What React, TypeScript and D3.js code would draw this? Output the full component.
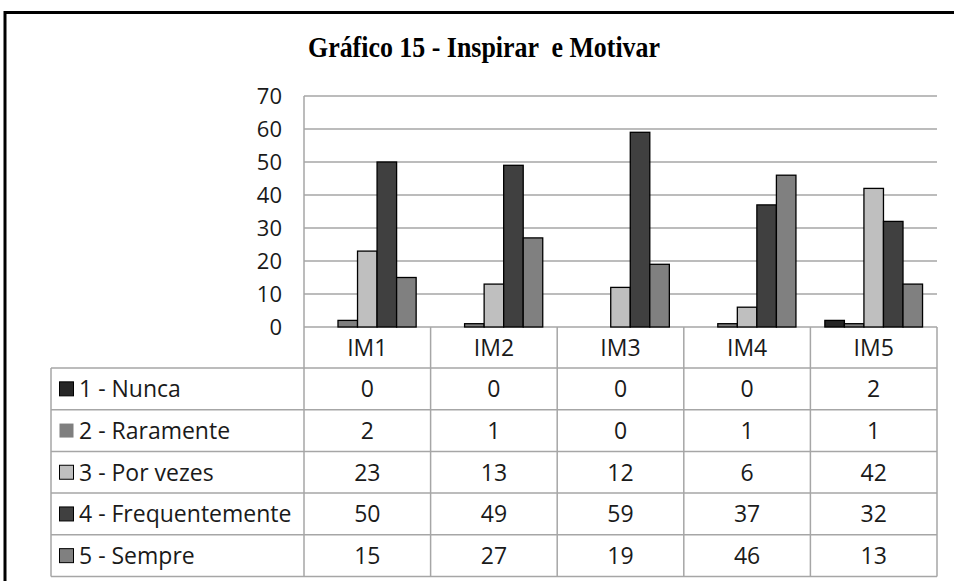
import React from "react";
import * as d3 from "d3";

const title = "Gráfico 15 - Inspirar  e Motivar";
const categories = ["IM1", "IM2", "IM3", "IM4", "IM5"];
const seriesNames = ["1 - Nunca", "2 - Raramente", "3 - Por vezes", "4 - Frequentemente", "5 - Sempre"];
const nunca = [0, 0, 0, 0, 2];
const raramente = [2, 1, 0, 1, 1];
const porVezes = [23, 13, 12, 6, 42];
const frequentemente = [50, 49, 59, 37, 32];
const sempre = [15, 27, 19, 46, 13];
const yTicks = [0, 10, 20, 30, 40, 50, 60, 70];
const seriesColors = ["#262626", "#7f7f7f", "#bfbfbf", "#404040", "#808080"];

const seriesValues = [nunca, raramente, porVezes, frequentemente, sempre];

export default function App() {
  const W = 954, H = 581;
  const plotLeft = 304, plotRight = 937, plotTop = 96, plotBottom = 327;
  const tableLeft = 51;
  const rowH = 41.7;
  const headerBottom = 368;

  const y = d3.scaleLinear().domain([0, 70]).range([plotBottom, plotTop]);
  const x = d3.scaleBand().domain(categories).range([plotLeft, plotRight]).paddingInner(0).paddingOuter(0);
  const inner = d3.scaleBand().domain(seriesNames).range([0, x.bandwidth()]).paddingOuter(0.74).paddingInner(0);

  const font = "'Open Sans', sans-serif";
  const grid = "#a6a6a6";

  return (
    <svg width={W} height={H} style={{ position: "absolute", left: 0, top: 0 }}>
      <rect x={0} y={0} width={W} height={H} fill="#fff" />
      <path d={`M5,${H} V12.5 H${W}`} fill="none" stroke="#000" strokeWidth={3} />
      <text x={484} y={57} textAnchor="middle" fontFamily="'Liberation Serif', serif" fontWeight="bold" fontSize={29} textLength={352} lengthAdjust="spacingAndGlyphs" style={{ whiteSpace: "pre" }} xmlSpace="preserve">{title}</text>

      {yTicks.map((t) => (
        <g key={t}>
          <line x1={plotLeft} x2={plotRight} y1={y(t)} y2={y(t)} stroke={grid} strokeWidth={1.5} />
          <text x={282} y={y(t)} dy="0.36em" textAnchor="end" fontFamily={font} fontSize={22} fill="#1a1a1a">{t}</text>
        </g>
      ))}
      <line x1={plotLeft} x2={plotLeft} y1={plotTop} y2={plotBottom} stroke={grid} strokeWidth={1.5} />

      {categories.map((c, ci) => (
        <g key={c}>
          {seriesValues.map((vals, si) => {
            const v = vals[ci];
            if (v === 0) return null;
            const bx = (x(c) as number) + (inner(seriesNames[si]) as number);
            return (
              <rect key={si} x={bx} y={y(v)} width={inner.bandwidth()} height={plotBottom - y(v)} fill={seriesColors[si]} stroke="#000" strokeWidth={1.3} />
            );
          })}
        </g>
      ))}

      <g fontFamily={font} fontSize={23} fill="#1a1a1a">
        {categories.map((c) => (
          <text key={c} x={(x(c) as number) + x.bandwidth() / 2} y={(plotBottom + headerBottom) / 2} dy="0.36em" textAnchor="middle">{c}</text>
        ))}
        {d3.range(6).map((i) => (
          <line key={i} x1={tableLeft} x2={plotRight} y1={headerBottom + i * rowH} y2={headerBottom + i * rowH} stroke={grid} strokeWidth={1.5} />
        ))}
        <line x1={tableLeft} x2={tableLeft} y1={headerBottom} y2={headerBottom + 5 * rowH} stroke={grid} strokeWidth={1.5} />
        {categories.map((c) => (
          <line key={c} x1={x(c) as number} x2={x(c) as number} y1={plotBottom} y2={headerBottom + 5 * rowH} stroke={grid} strokeWidth={1.5} />
        ))}
        <line x1={plotRight} x2={plotRight} y1={plotBottom} y2={headerBottom + 5 * rowH} stroke={grid} strokeWidth={1.5} />
        {seriesNames.map((s, si) => {
          const cy = headerBottom + si * rowH + rowH / 2;
          return (
            <g key={s}>
              <rect x={59.5} y={cy - 7} width={14} height={14} fill={seriesColors[si]} stroke={si === 1 ? "none" : "#000"} strokeWidth={1} />
              <text x={79} y={cy} dy="0.36em">{s}</text>
              {categories.map((c, ci) => (
                <text key={c} x={(x(c) as number) + x.bandwidth() / 2} y={cy} dy="0.36em" textAnchor="middle">{seriesValues[si][ci]}</text>
              ))}
            </g>
          );
        })}
      </g>
    </svg>
  );
}
